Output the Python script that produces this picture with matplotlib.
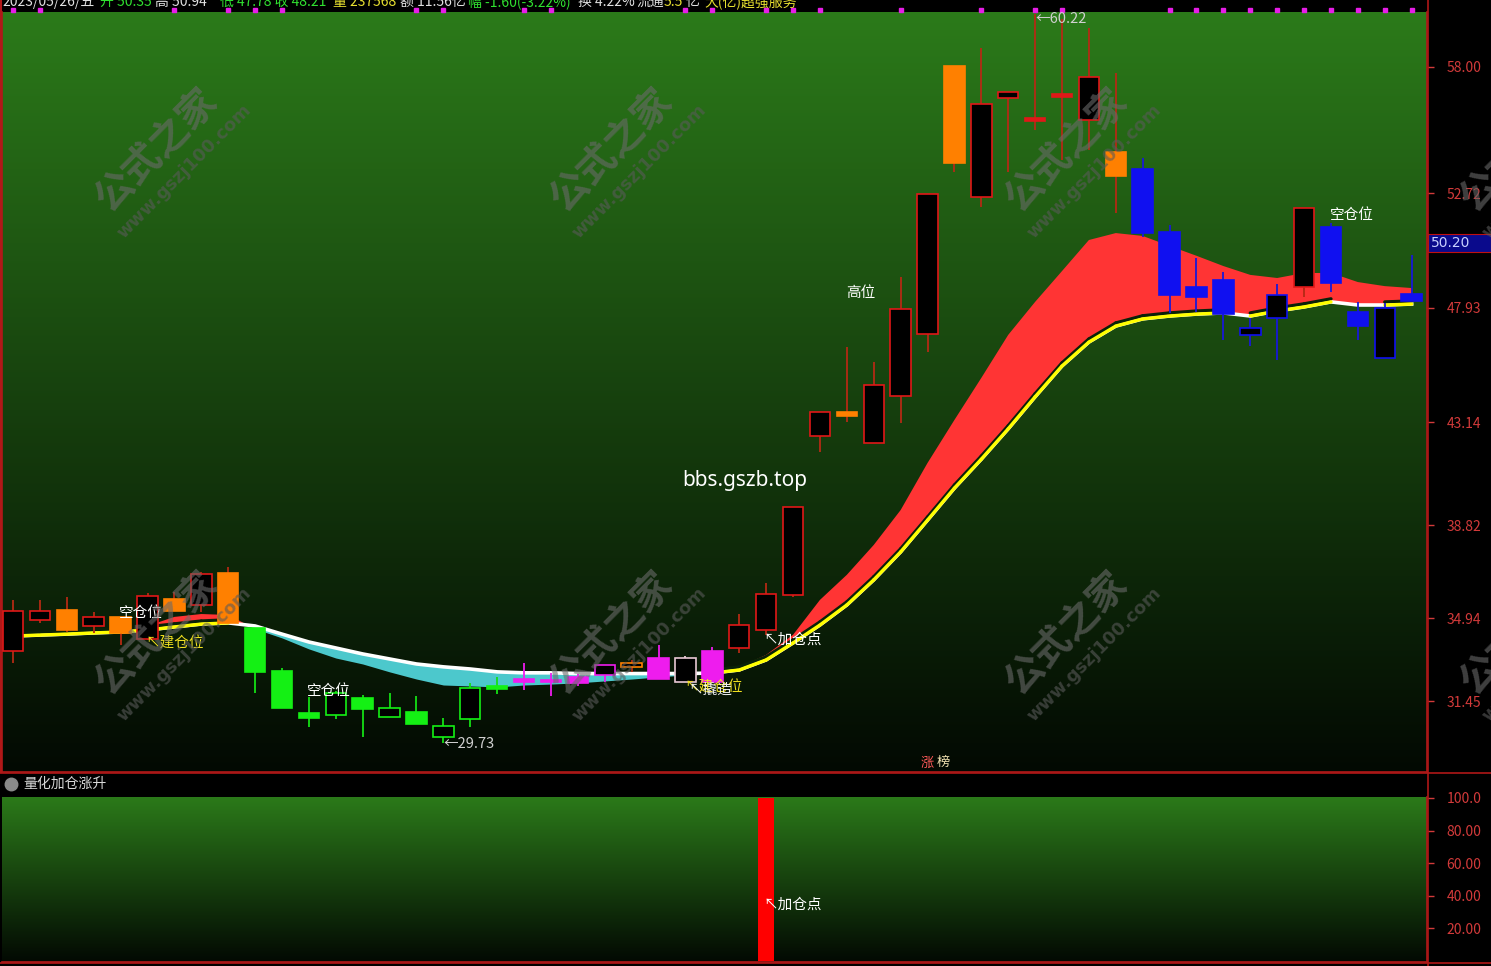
import numpy as np
import matplotlib
matplotlib.use("Agg")
import matplotlib.pyplot as plt
from matplotlib.patches import Rectangle
from matplotlib.lines import Line2D
from matplotlib.transforms import blended_transform_factory
import matplotlib.patheffects as pe

plt.rcParams['font.family'] = ['Noto Sans CJK SC', 'DejaVu Sans']

# K线数据
opens = [33.57, 34.86, 35.28, 34.61, 34.99, 34.07, 35.74, 35.49, 36.83, 34.53,
         32.73, 30.97, 30.89, 31.60, 30.80, 31.01, 29.97, 30.72, 32.06, 32.31,
         32.27, 32.48, 32.56, 32.90, 33.27, 32.27, 33.57, 33.69, 34.44, 35.91,
         42.56, 43.57, 42.26, 44.24, 46.83, 58.04, 52.57, 56.70, 55.87, 56.83,
         55.78, 54.45, 53.74, 51.10, 48.79, 49.09, 46.79, 47.50, 48.79, 51.31,
         47.75, 45.83, 48.50]
highs = [35.70, 35.70, 35.83, 35.19, 34.99, 35.99, 36.03, 36.87, 37.08, 34.53,
         32.86, 31.64, 31.90, 31.73, 31.81, 31.68, 30.76, 32.23, 32.48, 33.06,
         32.64, 32.60, 32.98, 33.19, 33.82, 33.36, 33.73, 35.11, 36.41, 39.59,
         43.57, 46.29, 45.66, 49.21, 52.69, 58.04, 58.79, 56.95, 60.22, 60.00,
         59.63, 57.75, 54.20, 51.39, 50.01, 49.42, 47.50, 48.92, 52.10, 51.48,
         48.17, 48.12, 50.13]
lows = [33.06, 34.74, 34.36, 34.32, 33.82, 34.03, 35.24, 35.19, 34.74, 31.81,
        31.18, 30.39, 30.72, 29.97, 30.80, 30.51, 29.73, 30.39, 31.77, 31.93,
        31.68, 32.10, 32.27, 32.69, 32.39, 32.27, 32.27, 33.48, 34.24, 35.83,
        41.89, 43.15, 42.26, 43.11, 46.08, 53.61, 52.15, 53.61, 55.37, 54.11,
        54.53, 51.90, 50.89, 47.71, 47.75, 46.58, 46.33, 45.74, 48.37, 48.58,
        46.58, 45.83, 48.25]
closes = [35.24, 35.24, 34.44, 34.99, 34.32, 35.87, 35.24, 36.79, 34.74, 32.69,
          31.18, 30.76, 31.81, 31.14, 31.18, 30.51, 30.43, 32.02, 31.98, 32.27,
          32.25, 32.23, 32.98, 33.06, 32.39, 33.27, 32.27, 34.65, 35.95, 39.59,
          43.57, 43.40, 44.70, 47.87, 52.69, 53.99, 56.45, 56.95, 55.74, 56.74,
          57.58, 53.44, 51.06, 48.46, 48.37, 47.66, 47.08, 48.46, 52.10, 48.96,
          47.16, 47.92, 48.21]
# 指标给K线的着色
kinds = ['r', 'r', 'o', 'r', 'o', 'r', 'o', 'r', 'o', 'g',
         'g', 'g', 'g', 'g', 'g', 'g', 'g', 'g', 'g', 'm',
         'm', 'm', 'm', 'o', 'm', 'w', 'm', 'r', 'r', 'r',
         'r', 'o', 'r', 'r', 'r', 'o', 'r', 'r', 'r', 'r',
         'r', 'o', 'b', 'b', 'b', 'b', 'b', 'b', 'r', 'b',
         'b', 'b', 'b']

# 均线带
fast_line = [34.19, 34.23, 34.27, 34.32, 34.36, 34.61, 34.99, 35.11, 35.07, 34.49,
             34.11, 33.65, 33.27, 33.02, 32.69, 32.39, 32.14, 32.10, 32.06, 32.14,
             32.18, 32.23, 32.31, 32.39, 32.48, 32.56, 32.60, 32.90, 33.40, 34.24,
             35.70, 36.75, 38.00, 39.46, 41.43, 43.23, 44.99, 46.79, 48.17, 49.46,
             50.76, 51.05, 50.93, 50.51, 50.10, 49.67, 49.30, 49.17, 49.38, 49.38,
             49.00, 48.83, 48.75]
slow_line = [34.19, 34.23, 34.27, 34.32, 34.36, 34.44, 34.57, 34.69, 34.74, 34.61,
             34.27, 33.94, 33.69, 33.44, 33.23, 33.02, 32.90, 32.81, 32.69, 32.65,
             32.65, 32.62, 32.62, 32.62, 32.62, 32.62, 32.64, 32.77, 33.19, 33.90,
             34.65, 35.49, 36.54, 37.71, 39.04, 40.38, 41.59, 42.86, 44.20, 45.49,
             46.49, 47.16, 47.46, 47.58, 47.66, 47.71, 47.58, 47.79, 47.96, 48.17,
             48.04, 48.04, 48.08]

signal_dots = [0, 1, 6, 8, 9, 10, 15, 16, 19, 20, 25, 26, 28, 29, 30, 33, 36, 38, 39,
               43, 44, 45, 46, 47, 48, 49, 50, 51, 52]
add_signal = [0, 0, 0, 0, 0, 0, 0, 0, 0, 0, 0, 0, 0, 0, 0, 0, 0, 0, 0, 0,
              0, 0, 0, 0, 0, 0, 0, 0, 100, 0, 0, 0, 0, 0, 0, 0, 0, 0, 0, 0,
              0, 0, 0, 0, 0, 0, 0, 0, 0, 0, 0, 0, 0]

price_ticks = [58.00, 52.72, 47.93, 43.14, 38.82, 34.94, 31.45]
sub_ticks = [100, 80, 60, 40, 20]
sub_tick_labels = ['100.0', '80.00', '60.00', '40.00', '20.00']
last_price = '50.20'

header = [(2, '2023/05/26/五', '#e0e0e0'), (100, '开 50.35', '#30e030'),
          (155, '高 50.94', '#e0e0e0'), (220, '低 47.78 收 48.21', '#30e030'),
          (333, '量 237568', '#e8e030'), (400, '额 11.56亿', '#e0e0e0'),
          (468, '幅 -1.60(-3.22%)', '#30e030'), (578, '换 4.22%', '#e0e0e0'),
          (636, '流通', '#e0e0e0'), (664, '5.5', '#e8e030'), (686, '亿', '#e0e0e0'),
          (704, '大(亿)超强服务', '#e8e030')]

# (K线序号, 价格, 文字, 颜色, 对齐)
labels = [(4.76, 35.15, '空仓位', 'white', 'center'),
          (4.94, 33.86, '↖建仓位', '#f0e020', 'left'),
          (11.75, 31.89, '空仓位', 'white', 'center'),
          (16.0, 29.67, '←29.73', '#d0d0d0', 'left'),
          (24.98, 32.02, '↖建仓位', '#f0e020', 'left'),
          (25.1, 31.95, '↖撬造', '#f0f0f0', 'left'),
          (27.92, 34.03, '↖加仓点', 'white', 'left'),
          (31.52, 48.54, '高位', 'white', 'center'),
          (49.78, 51.81, '空仓位', 'white', 'center'),
          (38.03, 60.00, '←60.22', '#d0d0d0', 'left')]

W, H = 1491, 966


def fx(px):
    return px / W


def fy(py):
    return 1 - py / H


fig = plt.figure(figsize=(14.91, 9.66), dpi=100, facecolor='black')
ax = fig.add_axes([fx(2), fy(772), fx(1427) - fx(2), fy(12) - fy(772)])
sub = fig.add_axes([fx(2), fy(962), fx(1427) - fx(2), fy(797) - fy(962)])

# 绿色渐变背景
g = np.linspace(0, 1, 256)[:, None, None]
top_c = np.array([0.17, 0.48, 0.10])
bot_c = np.array([0.01, 0.035, 0.01])
bg = top_c * (1 - g) + bot_c * g
for a in (ax, sub):
    a.imshow(bg, extent=[0, 1, 0, 1], transform=a.transAxes, aspect='auto', zorder=0)
    a.set_facecolor('black')

n = len(opens)
xs = np.arange(n)
fast = np.array(fast_line)
slow = np.array(slow_line)

ax.fill_between(xs, fast, slow, where=fast >= slow, interpolate=True, color='#ff3434', lw=0, zorder=1)
ax.fill_between(xs, fast, slow, where=fast < slow, interpolate=True, color='#4cc8cc', lw=0, zorder=1)

ax.plot(xs, slow, color='white', lw=2.6, zorder=2)
for i in range(n - 1):
    if slow[i + 1] - slow[i] > 0.03:
        ax.plot(xs[i:i + 2], slow[i:i + 2], color='#ffff00', lw=2.4, zorder=2.1,
                solid_capstyle='round',
                path_effects=[pe.SimpleLineShadow(offset=(0, 2.2), shadow_color='#0a2208', alpha=1),
                              pe.Normal()])

palette = {'r': ('#e01818', '#b42a14'), 'o': ('#ff8000', '#b42a14'),
           'g': ('#14f014', '#14e014'), 'm': ('#ee1cee', '#ee1cee'),
           'w': ('#e8c8d4', '#e8c8d4'), 'b': ('#1010f0', '#1818d8')}
bw = 0.76
for i in range(n):
    body_c, wick_c = palette[kinds[i]]
    ax.vlines(xs[i], lows[i], highs[i], color=wick_c, lw=1.3, zorder=3)
    lo = min(opens[i], closes[i])
    hi = max(opens[i], closes[i])
    h = max(hi - lo, 0.12)
    up = closes[i] > opens[i]
    ax.add_patch(Rectangle((xs[i] - bw / 2, lo), bw, h, facecolor='black' if up else body_c,
                           edgecolor=body_c, lw=1.2, zorder=4))

# 顶部信号点
tr = blended_transform_factory(ax.transData, ax.transAxes)
ax.plot(signal_dots, [1.003] * len(signal_dots), ls='none', marker='s', ms=3.2,
        color='#e61ee6', transform=tr, clip_on=False, zorder=6)

for xi, yv, txt, col, ha in labels:
    ax.text(xi, yv, txt, color=col, ha=ha, va='center', fontsize=10.5, zorder=7)

ax.text(27.21, 40.68, 'bbs.gszb.top', color='white', ha='center', va='center',
        fontsize=15, family=['Noto Sans', 'DejaVu Sans'], zorder=7)
ax.text(33.98, 28.88, '涨', color='#ff5a5a', ha='center', va='center', fontsize=9.5, zorder=7)
ax.text(34.57, 28.88, '榜', color='#f0e0b0', ha='center', va='center', fontsize=9.5, zorder=7)

ax.set_xlim(-0.41, 52.57)
ax.set_ylim(28.50, 60.30)
ax.set_xticks([])
ax.yaxis.tick_right()
ax.set_yticks(price_ticks)
ax.set_yticklabels([f'{t:.2f}' for t in price_ticks])
ax.tick_params(axis='y', colors='#d23a3a', length=5, width=1, pad=9, labelsize=10)
for k, s in ax.spines.items():
    s.set_color('#b01818')
    s.set_linewidth(1.2)
ax.spines['top'].set_visible(False)

# 副图: 量化加仓涨升
sub.bar(xs, add_signal, width=0.6, color='#ff0000', zorder=2)
sub.text(27.92, 34.5, '↖加仓点', color='white', ha='left', va='center', fontsize=10.5, zorder=3)
sub.set_xlim(-0.41, 52.57)
sub.set_ylim(-0.6, 100.6)
sub.set_xticks([])
sub.yaxis.tick_right()
sub.set_yticks(sub_ticks)
sub.set_yticklabels(sub_tick_labels)
sub.tick_params(axis='y', colors='#d23a3a', length=5, width=1, pad=9, labelsize=10)
for k, s in sub.spines.items():
    s.set_color('#b01818')
    s.set_linewidth(1.2)
sub.spines['top'].set_visible(False)
sub.spines['left'].set_visible(False)

fig.add_artist(Line2D([fx(11)], [fy(784)], marker='o', ms=9, color='#8a8a8a', ls='none'))
fig.text(fx(23), fy(784), '量化加仓涨升', color='#d8d8d8', ha='left', va='center', fontsize=10)

# 顶部行情栏(上半截被裁掉)
for px, txt, col in header:
    fig.text(fx(px), fy(6), txt, color=col, ha='left', va='baseline', fontsize=10)

# 分隔线
red = '#b01818'
fig.add_artist(Line2D([fx(1427.5)] * 2, [0, 1], color=red, lw=1.2))
fig.add_artist(Line2D([0, 1], [fy(772.5)] * 2, color=red, lw=1.2))
fig.add_artist(Line2D([0, 1], [fy(963)] * 2, color=red, lw=1.2))
fig.add_artist(Line2D([fx(1)] * 2, [fy(772), 1], color=red, lw=1.5))

# 最新价标签
fig.add_artist(Rectangle((fx(1428), fy(252)), fx(63), 18 / H, transform=fig.transFigure,
                         facecolor='#0a0a8c', edgecolor='#c01010', lw=0.8))
fig.text(fx(1431), fy(243), last_price, color='#c8d0ff', ha='left', va='center', fontsize=10,
         family=['DejaVu Sans'])

# 水印
for cx, cy in [(157, 150), (612, 150), (1067, 150), (1522, 150),
               (157, 633), (612, 633), (1067, 633), (1522, 633)]:
    fig.text(fx(cx), fy(cy), '公式之家', rotation=45, ha='center', va='center', fontsize=28,
             fontweight='bold', color='#6a6a6a', alpha=0.6, zorder=10)
    fig.text(fx(cx + 27), fy(cy + 21), 'www.gszj100.com', rotation=45, ha='center', va='center',
             fontsize=13, fontweight='bold', color='#5a5a5a', alpha=0.6, zorder=10,
             family=['DejaVu Sans'])

fig.savefig('out.png', dpi=100, facecolor='black')
